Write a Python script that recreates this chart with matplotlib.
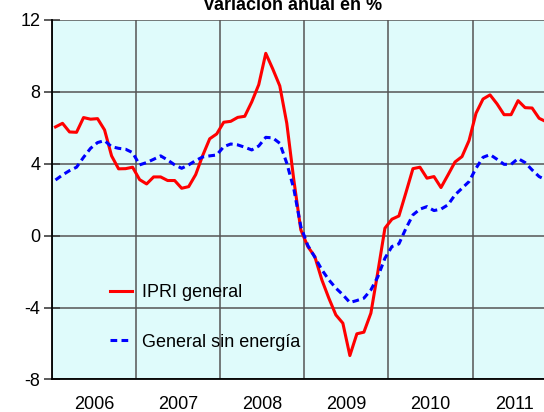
import matplotlib
matplotlib.use('Agg')
import matplotlib.pyplot as plt

plt.rcParams['font.family'] = ['Liberation Sans', 'DejaVu Sans']

# valores (enero 2006 - noviembre 2011)
ipri_general = [
    6.04, 6.24, 5.76, 5.74, 6.56, 6.47, 6.50, 5.87, 4.43, 3.71, 3.72, 3.80,
    3.11, 2.87, 3.26, 3.26, 3.06, 3.06, 2.63, 2.72, 3.39, 4.45, 5.38, 5.65,
    6.30, 6.35, 6.57, 6.63, 7.43, 8.39, 10.13, 9.26, 8.32, 6.24, 3.10, 0.32,
    -0.61, -1.17, -2.46, -3.48, -4.41, -4.87, -6.67, -5.46, -5.37, -4.31, -2.00, 0.41,
    0.91, 1.09, 2.39, 3.72, 3.80, 3.19, 3.28, 2.67, 3.37, 4.09, 4.39, 5.28,
    6.80, 7.59, 7.82, 7.32, 6.72, 6.72, 7.50, 7.11, 7.09, 6.52, 6.33,
]
sin_energia = [
    3.09, 3.37, 3.61, 3.80, 4.35, 4.85, 5.17, 5.28, 4.94, 4.85, 4.80, 4.61,
    3.93, 4.06, 4.24, 4.43, 4.20, 3.93, 3.74, 3.93, 4.17, 4.37, 4.43, 4.48,
    4.94, 5.09, 5.04, 4.91, 4.76, 4.98, 5.46, 5.43, 5.13, 4.02, 2.60, 0.50,
    -0.55, -1.20, -1.90, -2.46, -2.92, -3.29, -3.72, -3.61, -3.48, -3.02, -2.28, -1.26,
    -0.61, -0.46, 0.40, 1.15, 1.47, 1.61, 1.39, 1.47, 1.71, 2.26, 2.63, 3.00,
    3.74, 4.35, 4.50, 4.24, 3.96, 3.96, 4.28, 4.06, 3.65, 3.28, 3.09,
]
anios = [2006, 2007, 2008, 2009, 2010, 2011]
y_ticks = [-8, -4, 0, 4, 8, 12]

fechas = [anios[0] + (i + 0.5) / 12 for i in range(len(ipri_general))]

fig = plt.figure(figsize=(5.44, 4.12), dpi=100)
ax = fig.add_axes([0.0956, 0.0789, 0.9276, 0.8733])
ax.set_facecolor('#DFFBFB')

ax.plot(fechas, ipri_general, color='#FF0000', lw=2.2, label='IPRI general', zorder=3)
ax.plot(fechas, sin_energia, color='#0000FF', lw=2.2, ls=(0, (2.2, 1.4)),
        label='General sin energía', zorder=3)

ax.set_xlim(2006, 2012)
ax.set_ylim(-8, 12)
ax.set_yticks(y_ticks)
ax.set_yticklabels([str(v) for v in y_ticks])
ax.set_xticks(anios + [2012])
ax.set_xticklabels([])
ax.set_xticks([a + 0.5 for a in anios], minor=True)
ax.set_xticklabels([str(a) for a in anios], minor=True)

ax.tick_params(axis='x', which='both', length=0, labelsize=13, pad=12)
ax.tick_params(axis='y', direction='inout', length=11, width=1.2, color='#404040',
               labelsize=13, pad=3)
ax.grid(True, which='major', color='#555555', lw=1.1)
for s in ['top', 'right']:
    ax.spines[s].set_visible(False)
ax.spines['left'].set_linewidth(1.3)
ax.spines['bottom'].set_linewidth(1.3)
ax.set_axisbelow(True)

ax.legend(loc='upper left', bbox_to_anchor=(0.097, 0.29), frameon=False,
          fontsize=13, borderpad=0, labelspacing=1.8, handlelength=1.2,
          handletextpad=0.6)

fig.text(0.537, 0.976, 'Variación anual en %', ha='center', va='baseline',
         fontsize=13, fontweight='bold')

fig.savefig('out.png', dpi=100)
